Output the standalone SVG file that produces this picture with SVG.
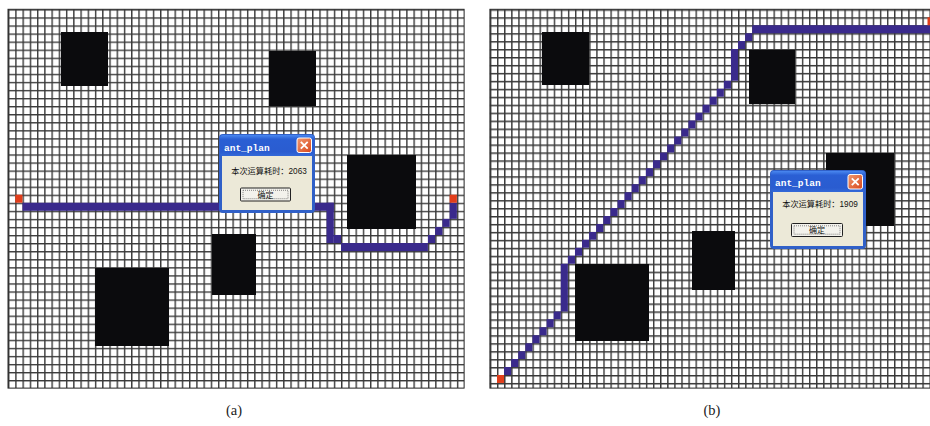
<svg xmlns="http://www.w3.org/2000/svg" width="930" height="426" viewBox="0 0 930 426">
<defs>
<pattern id="gridA" patternUnits="userSpaceOnUse" x="8" y="9.3" width="7.24" height="8.06">
<rect width="7.24" height="8.06" fill="#fff"/>
<path d="M0.7,0 V8.06 M0,0.7 H7.24" stroke="#383838" stroke-width="1.4"/>
</pattern>
<pattern id="gridB" patternUnits="userSpaceOnUse" x="489.9" y="9.3" width="7.09" height="7.95">
<rect width="7.09" height="7.95" fill="#fff"/>
<path d="M0.7,0 V7.95 M0,0.7 H7.09" stroke="#383838" stroke-width="1.4"/>
</pattern>
<linearGradient id="ttlg" x1="0" y1="0" x2="0" y2="1">
<stop offset="0" stop-color="#4a88f0"/>
<stop offset="0.2" stop-color="#2a5fd4"/>
<stop offset="0.8" stop-color="#2a5cd0"/>
<stop offset="1" stop-color="#3369d8"/>
</linearGradient>
<linearGradient id="clsg" x1="0" y1="0" x2="1" y2="1">
<stop offset="0" stop-color="#f29a70"/>
<stop offset="1" stop-color="#d8461c"/>
</linearGradient>
</defs>
<style>
.panel{stroke:#2a2a2a;stroke-width:1}
.obs{fill:#0b0b0d}
.route{fill:#3a2a8c}
.start{fill:#e23e1b}
.frm{fill:#3060c8}
.bar{fill:url(#ttlg)}
.body{fill:#ece9d8}
.ttl{font-family:"Liberation Mono",monospace;font-size:9.5px;font-weight:bold;fill:#fff}
.cls{fill:url(#clsg);stroke:#fff;stroke-width:1}
.x{stroke:#fff;stroke-width:1.8;fill:none}
.msg{font-family:"Liberation Sans","Noto Sans CJK SC",sans-serif;font-size:8.2px;fill:#111;text-anchor:middle}
.btn{fill:#f3f2ec;stroke:#222;stroke-width:1}
.focus{fill:none;stroke:#555;stroke-width:0.7;stroke-dasharray:1 1}
.btxt{font-family:"Noto Sans CJK SC",sans-serif;font-size:8px;fill:#111;text-anchor:middle}
.cap{font-family:"Liberation Serif",serif;font-size:14.5px;fill:#222;text-anchor:middle}
</style>

<g id="panel-a">
<rect class="panel" x="8" y="9.3" width="456.1" height="378.8" fill="url(#gridA)"/>
<rect class="obs" x="61" y="32" width="47" height="54"/>
<rect class="obs" x="269" y="51" width="47" height="55"/>
<rect class="obs" x="347" y="155" width="69" height="74"/>
<rect class="obs" x="212" y="234" width="44" height="61"/>
<rect class="obs" x="95" y="268" width="74" height="78"/>
</g>

<g id="route-a">
<rect class="start" x="15.24" y="194.68" width="7.24" height="8.06"/>
<rect class="route" x="22.48" y="202.74" width="311.32" height="8.06"/>
<rect class="route" x="326.56" y="202.74" width="7.24" height="40.3"/>
<rect class="route" x="333.8" y="234.98" width="7.24" height="8.06"/>
<rect class="route" x="341.04" y="243.04" width="86.88" height="8.06"/>
<rect class="route" x="427.92" y="234.98" width="7.24" height="8.06"/>
<rect class="route" x="435.16" y="226.92" width="7.24" height="8.06"/>
<rect class="route" x="442.4" y="218.86" width="7.24" height="8.06"/>
<rect class="route" x="449.64" y="202.74" width="7.24" height="16.12"/>
<rect class="start" x="449.64" y="194.68" width="7.24" height="8.06"/>
</g>

<g id="dialog-a" transform="translate(219,134)">
<rect class="frm" x="0" y="0" width="96" height="79" rx="4"/>
<rect class="bar" x="1" y="1" width="94" height="21" rx="3"/>
<rect class="body" x="3" y="22" width="90" height="54"/>
<text class="ttl" x="5" y="16.5">ant_plan</text>
<rect class="cls" x="78" y="4" width="14.5" height="14.5" rx="2"/>
<path class="x" d="M81.8,7.8 L88.7,14.7 M88.7,7.8 L81.8,14.7"/>
<text class="msg" x="50" y="39.5">本次运算耗时：2063</text>
<rect class="btn" x="21.5" y="54" width="50" height="13" rx="1"/>
<rect class="focus" x="24" y="56.3" width="45" height="8.4"/>
<text class="btxt" x="46.5" y="63.8">确定</text>
</g>

<g id="panel-b">
<rect class="panel" x="489.9" y="9.3" width="441" height="378.8" fill="url(#gridB)"/>
<rect class="obs" x="542" y="32" width="47" height="53"/>
<rect class="obs" x="749" y="50" width="46" height="54"/>
<rect class="obs" x="826" y="153" width="68" height="73"/>
<rect class="obs" x="692" y="231" width="43" height="59"/>
<rect class="obs" x="575" y="264" width="74" height="77"/>
</g>

<g id="route-b">
<rect class="start" x="497" y="375" width="7.09" height="7.95"/>
<path class="route" d="M504.08,367.05 h7.09 v7.95 h-7.09 z
m7.09,-7.95 h7.09 v7.95 h-7.09 z m7.09,-7.95 h7.09 v7.95 h-7.09 z m7.09,-7.95 h7.09 v7.95 h-7.09 z m7.09,-7.95 h7.09 v7.95 h-7.09 z
m7.09,-7.95 h7.09 v7.95 h-7.09 z m7.09,-7.95 h7.09 v7.95 h-7.09 z m7.09,-7.95 h7.09 v7.95 h-7.09 z m7.09,-7.95 h7.09 v7.95 h-7.09 z
m0,-39.75 h7.09 v39.75 h-7.09 z
m7.09,-7.95 h7.09 v7.95 h-7.09 z m7.09,-7.95 h7.09 v7.95 h-7.09 z m7.09,-7.95 h7.09 v7.95 h-7.09 z m7.09,-7.95 h7.09 v7.95 h-7.09 z
m7.09,-7.95 h7.09 v7.95 h-7.09 z m7.09,-7.95 h7.09 v7.95 h-7.09 z m7.09,-7.95 h7.09 v7.95 h-7.09 z m7.09,-7.95 h7.09 v7.95 h-7.09 z
m7.09,-7.95 h7.09 v7.95 h-7.09 z m7.09,-7.95 h7.09 v7.95 h-7.09 z m7.09,-7.95 h7.09 v7.95 h-7.09 z m7.09,-7.95 h7.09 v7.95 h-7.09 z
m7.09,-7.95 h7.09 v7.95 h-7.09 z m7.09,-7.95 h7.09 v7.95 h-7.09 z m7.09,-7.95 h7.09 v7.95 h-7.09 z m7.09,-7.95 h7.09 v7.95 h-7.09 z
m7.09,-7.95 h7.09 v7.95 h-7.09 z m7.09,-7.95 h7.09 v7.95 h-7.09 z m7.09,-7.95 h7.09 v7.95 h-7.09 z m7.09,-7.95 h7.09 v7.95 h-7.09 z
m7.09,-7.95 h7.09 v7.95 h-7.09 z m7.09,-7.95 h7.09 v7.95 h-7.09 z m7.09,-7.95 h7.09 v7.95 h-7.09 z
m7.09,-31.8 h7.09 v31.8 h-7.09 z
m7.09,-7.95 h7.09 v7.95 h-7.09 z m7.09,-7.95 h7.09 v7.95 h-7.09 z
m7.09,-7.95 h178 v7.95 h-178 z"/>
<rect class="start" x="927.5" y="17.3" width="7" height="7.95"/>
</g>

<g id="dialog-b" transform="translate(770,170)">
<rect class="frm" x="0" y="0" width="96" height="79" rx="4"/>
<rect class="bar" x="1" y="1" width="94" height="21" rx="3"/>
<rect class="body" x="3" y="22" width="90" height="54"/>
<text class="ttl" x="5" y="16">ant_plan</text>
<rect class="cls" x="78" y="4.5" width="14.5" height="14.5" rx="2"/>
<path class="x" d="M81.8,8.3 L88.7,15.2 M88.7,8.3 L81.8,15.2"/>
<text class="msg" x="50" y="36.5">本次运算耗时：1909</text>
<rect class="btn" x="21.5" y="53.5" width="51" height="13" rx="1"/>
<rect class="focus" x="24" y="55.8" width="46" height="8.4"/>
<text class="btxt" x="47" y="63.3">确定</text>
</g>

<text class="cap" x="234" y="415">(a)</text>
<text class="cap" x="712" y="415">(b)</text>
</svg>
